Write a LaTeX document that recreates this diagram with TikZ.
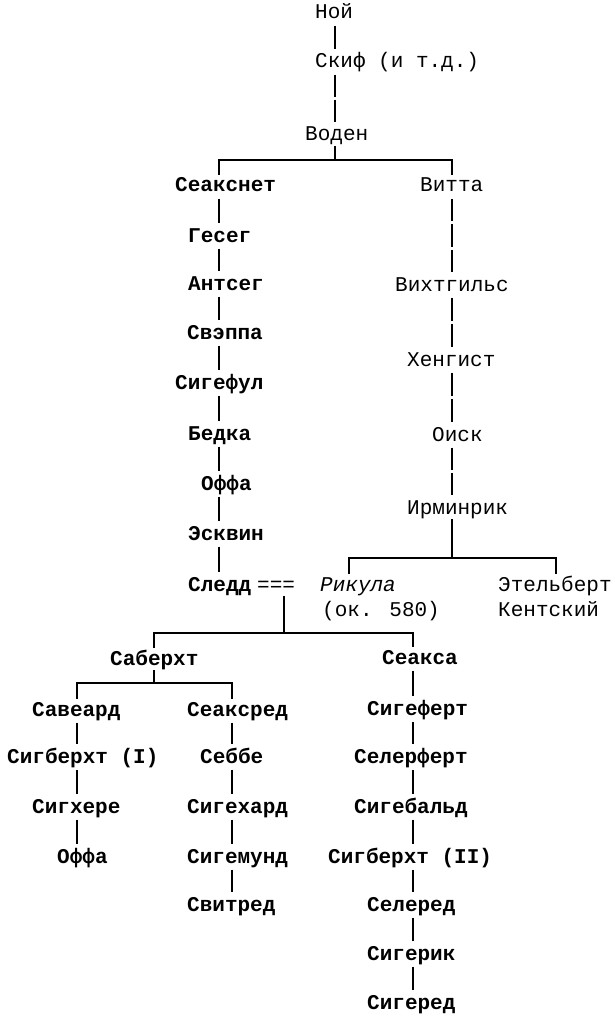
\documentclass[tikz,border=0pt]{standalone}
\usepackage{fontspec}
\setmainfont{Liberation Mono}
\usetikzlibrary{calc}
\begin{document}
\begin{tikzpicture}[x=1pt,y=-1pt,
  nm/.style={anchor=west, inner sep=0pt, text height=17pt, text depth=5pt,
    font=\fontsize{21}{24.4}\selectfont},
  bnm/.style={nm, font=\fontsize{21}{24.4}\selectfont\bfseries},
  conn/.style={line width=1.1pt, shorten <=1.5pt, shorten >=1.5pt},
  hconn/.style={line width=1.1pt}]
\useasboundingbox (0,0) rectangle (614,1016);
% column coordinates
\coordinate (cT) at (335,0);
\coordinate (cL) at (219,0);
\coordinate (cR) at (452,0);
\coordinate (cM) at (284,0);
\coordinate (cS) at (154,0);
\coordinate (cSL) at (77,0);
\coordinate (cSR) at (232,0);
\coordinate (cX) at (413,0);
\coordinate (cRk) at (349,0);
\coordinate (cE) at (556,0);
% junction coordinates
\coordinate (jA) at (335,160);
\coordinate (jB) at (452,558);
\coordinate (jC) at (284,633);
\coordinate (jD) at (154,683);
% top
\node[nm] (noi) at (315,13) {Ной};
\node[nm] (skif) at (315,62) {Скиф (и т.д.)};
\node[nm] (voden) at (305,135) {Воден};
% left column
\node[bnm] (seaksnet) at (175,186) {Сеакснет};
\node[bnm] (geseg) at (188,236) {Гесег};
\node[bnm] (antseg) at (188,284) {Антсег};
\node[bnm] (sveppa) at (187,333) {Свэппа};
\node[bnm] (sigeful) at (175,383) {Сигефул};
\node[bnm] (bedka) at (188,434) {Бедка};
\node[bnm] (offaA) at (201,484) {Оффа};
\node[bnm] (eskvin) at (188,534) {Эсквин};
\node[bnm] (sledd) at (188,585) {Следд};
\node[nm] (marr) at (257,585) {===};
% right column
\node[nm] (vitta) at (420,186) {Витта};
\node[nm] (vihtgils) at (395,285) {Вихтгильс};
\node[nm] (hengist) at (407,360) {Хенгист};
\node[nm] (oisk) at (432,435) {Оиск};
\node[nm] (irminrik) at (407,508) {Ирминрик};
\node[nm, font=\fontsize{21}{24.4}\selectfont\itshape] (rikula) at (320,585) {Рикула};
\node[nm] (ok) at (322,610) {(ок. 580)};
\node[nm] (ethel) at (498,585) {Этельберт};
\node[nm] (kent) at (498,610) {Кентский};
% lower generations
\node[bnm] (saberht) at (110,659) {Саберхт};
\node[bnm] (seaksa) at (382,658) {Сеакса};
\node[bnm] (saveard) at (32,710) {Савеард};
\node[bnm] (seaksred) at (187,710) {Сеаксред};
\node[bnm] (sigbA) at (7,757) {Сигберхт (I)};
\node[bnm] (sebbe) at (200,757) {Себбе};
\node[bnm] (sigkhere) at (32,807) {Сигхере};
\node[bnm] (sigekhard) at (187,807) {Сигехард};
\node[bnm] (offaB) at (57,857) {Оффа};
\node[bnm] (sigemund) at (187,857) {Сигемунд};
\node[bnm] (svitred) at (187,905) {Свитред};
\node[bnm] (sigefert) at (367,709) {Сигеферт};
\node[bnm] (selerfert) at (354,757) {Селерферт};
\node[bnm] (sigebald) at (354,807) {Сигебальд};
\node[bnm] (sigbB) at (328,857) {Сигберхт (II)};
\node[bnm] (selered) at (367,905) {Селеред};
\node[bnm] (sigerik) at (367,954) {Сигерик};
\node[bnm] (sigered) at (367,1003) {Сигеред};
% vertical chains, drawn as stacked bar segments
\foreach \a/\b/\c/\n in {noi/skif/cT/1, skif/voden/cT/2,
  seaksnet/geseg/cL/1, geseg/antseg/cL/1, antseg/sveppa/cL/1, sveppa/sigeful/cL/1,
  sigeful/bedka/cL/1, bedka/offaA/cL/1, offaA/eskvin/cL/1, eskvin/sledd/cL/1,
  vitta/vihtgils/cR/3, vihtgils/hengist/cR/2, hengist/oisk/cR/2, oisk/irminrik/cR/2,
  saveard/sigbA/cSL/1, sigbA/sigkhere/cSL/1, sigkhere/offaB/cSL/1,
  seaksred/sebbe/cSR/1, sebbe/sigekhard/cSR/1, sigekhard/sigemund/cSR/1, sigemund/svitred/cSR/1,
  seaksa/sigefert/cX/1, sigefert/selerfert/cX/1, selerfert/sigebald/cX/1, sigebald/sigbB/cX/1,
  sigbB/selered/cX/1, selered/sigerik/cX/1, sigerik/sigered/cX/1}
  {
  \foreach \i in {1,...,\n} {
    \draw[conn] ($(\a.south -| \c)!{(\i-1)/\n}!(\b.north -| \c)$)
             -- ($(\a.south -| \c)!{\i/\n}!(\b.north -| \c)$);
  }
  }
% branchings
\draw[hconn] (voden.south -| cT) -- (jA);
\draw[hconn] (seaksnet.north -| cL) |- (jA) -| (vitta.north -| cR);
\draw[hconn] (irminrik.south -| cR) -- (jB);
\draw[hconn] (rikula.north -| cRk) |- (jB) -| (ethel.north -| cE);
\draw[hconn] (marr.south -| cM) -- (jC);
\draw[hconn] (saberht.north -| cS) |- (jC) -| (seaksa.north -| cX);
\draw[hconn] (saberht.south -| cS) -- (jD);
\draw[hconn] (saveard.north -| cSL) |- (jD) -| (seaksred.north -| cSR);
\end{tikzpicture}
\end{document}
